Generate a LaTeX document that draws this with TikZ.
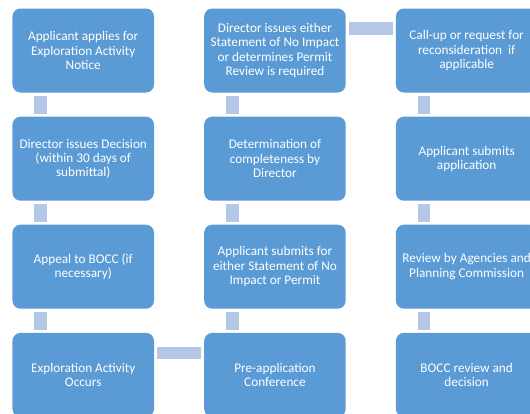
\documentclass[tikz,border=0pt]{standalone}
\usepackage{fontspec}
\setmainfont{Carlito}
\definecolor{boxblue}{HTML}{5B9BD5}
\definecolor{connblue}{HTML}{B4C7E7}
\tikzset{
  stepbox/.style={rectangle, anchor=north west, fill=boxblue, draw=none,
    rounded corners=8bp, minimum width=141.5bp, minimum height=84bp,
    inner sep=2bp, text=white, align=center,
    font=\fontsize{13.3}{14.4}\selectfont},
  vconn/.style={draw=connblue, line width=12.5bp, line cap=butt, shorten <=3bp, shorten >=3bp},
  hconn/.style={draw=connblue, line width=12.3bp, line cap=butt, shorten <=3bp, shorten >=3bp}
}
\begin{document}
\begin{tikzpicture}[x=1bp,y=-1bp]
\useasboundingbox[fill=white] (0,0) rectangle (530,413);
% column lefts: 12.3, 204, 395.7 ; row tops: 8.3, 116.5, 224.5, 332.7
\node[stepbox] (a1) at (12.3,8.3) {Applicant applies for\\Exploration Activity\\Notice};
\node[stepbox] (a2) at (12.3,116.5) {Director issues Decision\\(within 30 days of\\submittal)};
\node[stepbox] (a3) at (12.3,224.5) {Appeal to BOCC (if\\necessary)};
\node[stepbox] (a4) at (12.3,332.7) {Exploration Activity\\Occurs};
\node[stepbox] (b1) at (204,8.3) {Director issues either\\Statement of No Impact\\or determines Permit\\Review is required};
\node[stepbox] (b2) at (204,116.5) {Determination of\\completeness by\\Director};
\node[stepbox] (b3) at (204,224.5) {Applicant submits for\\either Statement of No\\Impact or Permit};
\node[stepbox] (b4) at (204,332.7) {Pre-application\\Conference};
\node[stepbox] (c1) at (395.7,8.3) {Call-up or request for\\reconsideration~~if\\applicable};
\node[stepbox] (c2) at (395.7,116.5) {Applicant submits\\application};
\node[stepbox] (c3) at (395.7,224.5) {Review by Agencies and\\Planning Commission};
\node[stepbox] (c4) at (395.7,332.7) {BOCC review and\\decision};
% vertical connectors
\foreach \u/\v in {a1/a2,a2/a3,a3/a4,b1/b2,b2/b3,b3/b4,c1/c2,c2/c3,c3/c4}{
  \draw[vconn] ([xshift=28.4bp]\u.south west) -- ([xshift=28.4bp]\v.north west);
}
% horizontal connectors
\draw[hconn] ([yshift=-20.3bp]b1.north east) -- ([yshift=-20.3bp]c1.north west);
\draw[hconn] ([yshift=-20.3bp]a4.north east) -- ([yshift=-20.3bp]b4.north west);
\end{tikzpicture}
\end{document}
